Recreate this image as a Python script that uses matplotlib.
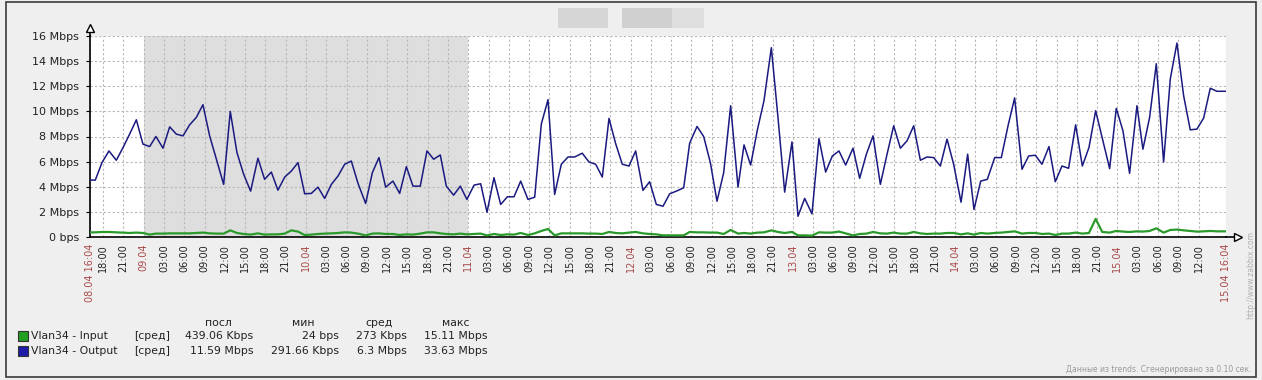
import matplotlib
matplotlib.use("Agg")
import matplotlib.pyplot as plt
from matplotlib.patches import Rectangle

# hours since 08.04 00:00 (trend samples, ~hourly)
hours = [
    16.07, 16.85, 17.84, 18.87, 19.96, 20.95, 21.93, 22.92, 23.90, 24.89, 25.82, 26.86, 27.85, 28.83, 29.82,
    30.80, 31.79, 32.77, 33.76, 34.84, 35.83, 36.81, 37.80, 38.79, 39.82, 40.90, 41.89, 42.88, 43.86,
    44.86, 45.84, 46.83, 47.81, 48.80, 49.78, 50.77, 51.76, 52.74, 53.73, 54.71, 55.70, 56.83, 57.82,
    58.80, 59.79, 60.87, 61.86, 62.85, 63.83, 64.91, 65.90, 66.89, 67.87, 68.76, 69.84, 70.83, 71.81,
    72.86, 73.84, 74.78, 75.81, 76.80, 77.79, 78.77, 79.76, 80.84, 81.83, 82.81, 83.80, 84.78, 85.77,
    86.76, 87.74, 88.87, 89.86, 90.85, 91.83, 92.82, 93.80, 94.79, 95.78, 96.76, 97.84, 98.83, 99.82,
    100.81, 101.80, 102.78, 103.87, 104.75, 105.84, 106.82, 107.81, 108.79, 109.78, 110.81, 111.90, 112.79, 113.77,
    114.76, 115.74, 116.83, 117.81, 118.80, 119.88, 120.77, 121.76, 122.84, 123.87, 124.86, 125.85, 126.83, 127.82,
    128.91, 129.89, 130.88, 131.87, 132.95, 133.94, 134.92, 135.91, 136.89, 137.88, 138.87, 139.85, 140.84, 141.82,
    142.81, 143.79, 144.88, 145.86, 146.80, 147.79, 148.77, 149.86, 150.84, 151.83, 152.81, 153.90, 154.88, 155.87,
    156.85, 157.89, 158.82, 159.81, 160.79, 161.83, 162.82, 163.80, 164.79, 165.77, 166.86, 167.84, 168.83, 169.81,
    170.90, 171.78, 172.77, 173.76, 174.84, 175.83, 176.81, 177.80, 178.78, 179.77, 180.76, 181.74, 182.73, 184.06,
]

output_mbps = [
    4.53, 4.53, 5.92, 6.85, 6.11, 7.12, 8.19, 9.33, 7.39, 7.20, 8.00, 7.07, 8.77, 8.19, 8.05,
    8.93, 9.52, 10.53, 8.05, 6.05, 4.19, 10.00, 6.72, 4.99, 3.65, 6.27, 4.59, 5.17, 3.73,
    4.77, 5.25, 5.92, 3.44, 3.47, 3.97, 3.07, 4.19, 4.85, 5.79, 6.05, 4.27, 2.67, 5.12,
    6.32, 3.97, 4.45, 3.47, 5.60, 4.05, 4.05, 6.85, 6.19, 6.53, 4.05, 3.33, 4.05, 2.99,
    4.13, 4.24, 1.97, 4.72, 2.59, 3.20, 3.20, 4.45, 2.99, 3.17, 8.99, 10.93, 3.39, 5.79,
    6.37, 6.37, 6.67, 5.97, 5.79, 4.77, 9.44, 7.44, 5.79, 5.65, 6.85, 3.71, 4.40, 2.59,
    2.45, 3.44, 3.65, 3.92, 7.47, 8.80, 8.00, 5.92, 2.85, 5.12, 10.45, 3.97, 7.33, 5.73,
    8.51, 10.85, 15.07, 9.52, 3.57, 7.57, 1.65, 3.07, 1.84, 7.84, 5.17, 6.45, 6.85, 5.73,
    7.07, 4.67, 6.59, 8.05, 4.19, 6.59, 8.85, 7.07, 7.65, 8.85, 6.11, 6.37, 6.32, 5.65,
    7.79, 5.79, 2.77, 6.59, 2.19, 4.45, 4.59, 6.32, 6.32, 8.85, 11.07, 5.39, 6.45, 6.51,
    5.79, 7.20, 4.40, 5.65, 5.47, 8.93, 5.65, 7.12, 10.05, 7.87, 5.44, 10.24, 8.45, 5.07,
    10.45, 6.99, 9.52, 13.79, 5.97, 12.59, 15.44, 11.25, 8.53, 8.59, 9.47, 11.84, 11.60, 11.60,
]

input_mbps = [
    0.37, 0.37, 0.40, 0.40, 0.37, 0.35, 0.32, 0.35, 0.32, 0.19, 0.27, 0.27, 0.29, 0.29, 0.29,
    0.29, 0.32, 0.35, 0.29, 0.27, 0.27, 0.53, 0.32, 0.24, 0.19, 0.29, 0.19, 0.21, 0.21,
    0.27, 0.53, 0.43, 0.16, 0.19, 0.24, 0.27, 0.29, 0.32, 0.37, 0.35, 0.27, 0.13, 0.27,
    0.29, 0.24, 0.24, 0.16, 0.21, 0.19, 0.27, 0.37, 0.37, 0.29, 0.24, 0.21, 0.27, 0.21,
    0.24, 0.27, 0.13, 0.24, 0.16, 0.21, 0.19, 0.32, 0.16, 0.29, 0.48, 0.64, 0.13, 0.29,
    0.29, 0.29, 0.29, 0.27, 0.27, 0.24, 0.40, 0.32, 0.29, 0.35, 0.40, 0.29, 0.24, 0.21,
    0.13, 0.13, 0.13, 0.13, 0.40, 0.37, 0.37, 0.35, 0.35, 0.24, 0.56, 0.27, 0.32, 0.27,
    0.35, 0.37, 0.53, 0.40, 0.32, 0.40, 0.13, 0.13, 0.11, 0.37, 0.35, 0.35, 0.43, 0.29,
    0.13, 0.24, 0.27, 0.40, 0.29, 0.27, 0.35, 0.27, 0.27, 0.40, 0.29, 0.24, 0.27, 0.27,
    0.32, 0.32, 0.21, 0.29, 0.19, 0.32, 0.27, 0.32, 0.35, 0.40, 0.45, 0.27, 0.32, 0.32,
    0.24, 0.27, 0.16, 0.27, 0.27, 0.35, 0.27, 0.32, 1.44, 0.40, 0.35, 0.48, 0.43, 0.40,
    0.45, 0.43, 0.48, 0.69, 0.35, 0.56, 0.59, 0.53, 0.48, 0.43, 0.45, 0.48, 0.45, 0.45,
]

start_h = 16 + 4 / 60
end_h = start_h + 168
shade_from, shade_to = 24, 72   # 09.04 00:00 .. 11.04 00:00
start_label = "08.04 16:04"
end_label = "15.04 16:04"
hour_ticks = list(range(18, 183, 3))   # 15:00 on the last day is skipped (too close to the end)

y_ticks = [0, 2, 4, 6, 8, 10, 12, 14, 16]
y_labels = ["0 bps", "2 Mbps", "4 Mbps", "6 Mbps", "8 Mbps",
            "10 Mbps", "12 Mbps", "14 Mbps", "16 Mbps"]

legend_cols = ["посл", "мин", "сред", "макс"]
legend_names = ["Vlan34 - Input", "Vlan34 - Output"]
legend_colors = ["#22a022", "#1c1ca8"]
legend_values = [
    ["439.06 Kbps", "24 bps", "273 Kbps", "15.11 Mbps"],
    ["11.59 Mbps", "291.66 Kbps", "6.3 Mbps", "33.63 Mbps"],
]

W, H = 1262, 380
RED = "#a84a4a"
TXT = "#222222"


def px(x, y):
    return x / W, 1 - y / H


fig = plt.figure(figsize=(W / 100, H / 100), dpi=100, facecolor="#efefef")
fig.patches.append(Rectangle(px(6, 377), 1250 / W, 375 / H, transform=fig.transFigure,
                             fill=False, ec="#3a3a3a", lw=1.2))

# blurred title placeholder
fig.patches.append(Rectangle(px(558, 28), 50 / W, 20 / H, transform=fig.transFigure,
                             fc="#d6d6d6", ec="none"))
fig.patches.append(Rectangle(px(622, 28), 50 / W, 20 / H, transform=fig.transFigure,
                             fc="#d0d0d0", ec="none"))
fig.patches.append(Rectangle(px(672, 28), 32 / W, 20 / H, transform=fig.transFigure,
                             fc="#dedede", ec="none"))

l, b = px(90, 237)
ax = fig.add_axes([l, b, 1136 / W, 201 / H])
ax.set_facecolor("white")
ax.axvspan(shade_from, shade_to, color="#dedede", lw=0, zorder=0)

ax.plot(hours, input_mbps, color="#2a9a2a", lw=1.6, zorder=3)
ax.plot(hours, output_mbps, color="#1a1a80", lw=1.1, zorder=4)

ax.set_xlim(start_h, end_h)
ax.set_ylim(0, 16)

xt = [start_h] + hour_ticks + [end_h]
xl = [start_label]
for h in hour_ticks:
    if h % 24 == 0:
        xl.append("%02d.04" % (8 + h // 24))
    else:
        xl.append("%02d:00" % (h % 24))
xl.append(end_label)
ax.set_xticks(xt)
ax.set_xticklabels(xl, rotation=90, fontsize=7, va="top")
for lab, txt in zip(ax.get_xticklabels(), xl):
    lab.set_color(RED if "." in txt else TXT)
ax.set_yticks(y_ticks)
ax.set_yticklabels(y_labels, fontsize=8, color=TXT)
ax.tick_params(axis="x", length=0, pad=5)
ax.tick_params(axis="y", length=3, pad=5, direction="out")

ax.set_axisbelow(True)
ax.grid(True, color="#b8b8b8", lw=0.8, ls=(0, (2, 2)))
for s in ["top", "right"]:
    ax.spines[s].set_visible(False)
for s in ["left", "bottom"]:
    ax.spines[s].set_color("black")
    ax.spines[s].set_linewidth(1.2)

# axis arrows
ax.plot([0, 0], [1, 1.035], color="black", lw=1.2, transform=ax.transAxes, clip_on=False)
ax.plot([0], [1.04], marker="^", ms=6, mfc="white", mec="black", mew=1,
        transform=ax.transAxes, clip_on=False)
ax.plot([1, 1.009], [0, 0], color="black", lw=1.2, transform=ax.transAxes, clip_on=False)
ax.plot([1.011], [0], marker=">", ms=6, mfc="white", mec="black", mew=1,
        transform=ax.transAxes, clip_on=False)

# legend table
col_x = [253, 339, 407, 488]
head_x = [218, 303, 379, 456]
for hx, name in zip(head_x, legend_cols):
    fig.text(*px(hx, 323), name, ha="center", va="center", fontsize=7.8, color=TXT)
for i, (name, c, vals) in enumerate(zip(legend_names, legend_colors, legend_values)):
    y = 336 + i * 15
    fig.patches.append(Rectangle(px(18, y + 5), 10 / W, 10 / H, transform=fig.transFigure,
                                 fc=c, ec="#333333", lw=0.8))
    fig.text(*px(31, y), name, ha="left", va="center", fontsize=7.8, color=TXT)
    fig.text(*px(134, y), "[сред]", ha="left", va="center", fontsize=7.8, color=TXT)
    for cx, v in zip(col_x, vals):
        fig.text(*px(cx, y), v, ha="right", va="center", fontsize=7.8, color=TXT)

fig.text(*px(1252, 369), "Данные из trends. Сгенерировано за 0.10 сек.", ha="right",
         va="center", fontsize=5.5, color="#9a9a9a")
fig.text(*px(1251, 275), "http://www.zabbix.com", ha="center", va="center",
         rotation=90, fontsize=5.5, color="#b0b0b0")

fig.savefig("out.png", dpi=100, facecolor=fig.get_facecolor())
